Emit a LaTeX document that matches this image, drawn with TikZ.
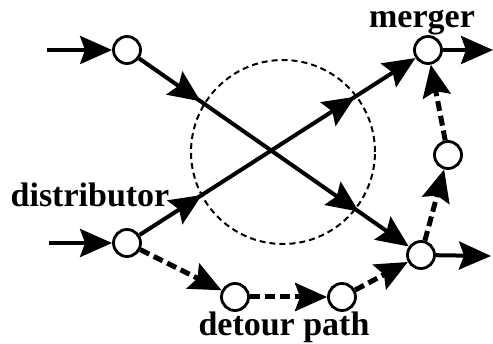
\documentclass[tikz,border=0pt]{standalone}
\usepackage{fontspec}
\setmainfont{Liberation Serif}
\usetikzlibrary{arrows.meta,decorations.markings}
\begin{document}
\begin{tikzpicture}[x=1pt,y=-1pt,
  junction/.style={circle,draw,line width=2.8pt,minimum size=27pt,inner sep=0pt,fill=white},
  tipstyle/.tip={Stealth[length=32pt 0,width=28pt 0,inset=5pt 0]},
  flow/.style={line width=4pt,-tipstyle},
  detourflow/.style={line width=5pt,dash pattern=on 10pt off 5pt,-tipstyle},
  zone/.style={circle,draw,line width=2pt,dash pattern=on 6pt off 4pt,minimum size=184pt,inner sep=0pt},
  twomarks/.style 2 args={postaction={decorate},decoration={markings,
      mark=at position #1 with {\arrow{tipstyle}},
      mark=at position #2 with {\arrow{tipstyle}}}},
  lbl/.style={font=\bfseries\fontsize{34}{36}\selectfont,anchor=base,inner sep=0pt}]
\useasboundingbox (0,0) rectangle (493,344);
% dashed zone
\node[zone] (zone) at (283,152) {};
% junctions
\node[junction] (A) at (127,50) {};
\node[junction] (D) at (127,243) {};
\node[junction] (M) at (428,50) {};
\node[junction] (R) at (448,155) {};
\node[junction] (B) at (421,255) {};
\node[junction] (P1) at (235,297) {};
\node[junction] (P2) at (342,297) {};
% free ends
\coordinate (inA) at (47,50);
\coordinate (inD) at (49,243);
\coordinate (outM) at (493,50);
\coordinate (outB) at (491,256);
% solid flows
\draw[flow] (inA) -- (A);
\draw[flow] (inD) -- (D);
\draw[flow] (M) -- (outM);
\draw[flow] (B) -- (outB);
\draw[flow,twomarks={0.228}{0.815}] (A) -- (B);
\draw[flow,twomarks={0.226}{0.781}] (D) -- (M);
% detour flows
\draw[detourflow] (D) -- (P1);
\draw[detourflow] (P1) -- (P2);
\draw[detourflow] (P2) -- (B);
\draw[detourflow] (B) -- (R);
\draw[detourflow] (R) -- (M);
% labels
\node[lbl] (lm) at (422,28) {merger};
\node[lbl] (ld) at (90,207) {distributor};
\node[lbl] (lp) at (284,336) {detour path};
\end{tikzpicture}
\end{document}
